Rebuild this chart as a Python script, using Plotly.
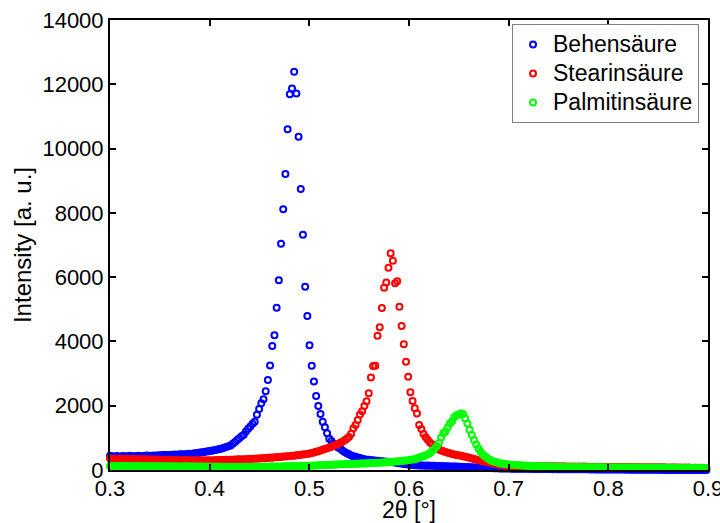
import plotly.graph_objects as go

# 2theta grid (degrees)
two_theta = [
    0.3000,0.3022,0.3044,0.3066,0.3088,0.3110,0.3132,0.3154,0.3176,0.3198,
    0.3220,0.3242,0.3264,0.3286,0.3308,0.3330,0.3352,0.3374,0.3396,0.3418,
    0.3440,0.3462,0.3484,0.3506,0.3528,0.3550,0.3572,0.3594,0.3616,0.3638,
    0.3660,0.3682,0.3704,0.3726,0.3748,0.3770,0.3792,0.3814,0.3836,0.3858,
    0.3880,0.3902,0.3924,0.3946,0.3968,0.3990,0.4012,0.4034,0.4056,0.4078,
    0.4100,0.4122,0.4144,0.4166,0.4188,0.4210,0.4232,0.4254,0.4276,0.4298,
    0.4320,0.4342,0.4364,0.4386,0.4408,0.4430,0.4452,0.4474,0.4496,0.4518,
    0.4540,0.4562,0.4584,0.4606,0.4628,0.4650,0.4672,0.4694,0.4716,0.4738,
    0.4760,0.4782,0.4804,0.4826,0.4848,0.4870,0.4892,0.4914,0.4936,0.4958,
    0.4980,0.5002,0.5024,0.5046,0.5068,0.5090,0.5112,0.5134,0.5156,0.5178,
    0.5200,0.5222,0.5244,0.5266,0.5288,0.5310,0.5332,0.5354,0.5376,0.5398,
    0.5420,0.5442,0.5464,0.5486,0.5508,0.5530,0.5552,0.5574,0.5596,0.5618,
    0.5640,0.5662,0.5684,0.5706,0.5728,0.5750,0.5772,0.5794,0.5816,0.5838,
    0.5860,0.5882,0.5904,0.5926,0.5948,0.5970,0.5992,0.6014,0.6036,0.6058,
    0.6080,0.6102,0.6124,0.6146,0.6168,0.6190,0.6212,0.6234,0.6256,0.6278,
    0.6300,0.6322,0.6344,0.6366,0.6388,0.6410,0.6432,0.6454,0.6476,0.6498,
    0.6520,0.6542,0.6564,0.6586,0.6608,0.6630,0.6652,0.6674,0.6696,0.6718,
    0.6740,0.6762,0.6784,0.6806,0.6828,0.6850,0.6872,0.6894,0.6916,0.6938,
    0.6960,0.6982,0.7004,0.7026,0.7048,0.7070,0.7092,0.7114,0.7136,0.7158,
    0.7180,0.7202,0.7224,0.7246,0.7268,0.7290,0.7312,0.7334,0.7356,0.7378,
    0.7400,0.7422,0.7444,0.7466,0.7488,0.7510,0.7532,0.7554,0.7576,0.7598,
    0.7620,0.7642,0.7664,0.7686,0.7708,0.7730,0.7752,0.7774,0.7796,0.7818,
    0.7840,0.7862,0.7884,0.7906,0.7928,0.7950,0.7972,0.7994,0.8016,0.8038,
    0.8060,0.8082,0.8104,0.8126,0.8148,0.8170,0.8192,0.8214,0.8236,0.8258,
    0.8280,0.8302,0.8324,0.8346,0.8368,0.8390,0.8412,0.8434,0.8456,0.8478,
    0.8500,0.8522,0.8544,0.8566,0.8588,0.8610,0.8632,0.8654,0.8676,0.8698,
    0.8720,0.8742,0.8764,0.8786,0.8808,0.8830,0.8852,0.8874,0.8896,0.8918,
    0.8940,0.8962,0.8984,
]

behensaeure = [
    440,425,415,432,418,422,436,420,428,441,
    430,421,433,446,429,424,441,449,437,444,
    452,446,458,450,463,470,461,468,477,472,
    480,476,488,492,485,498,505,500,512,520,
    530,545,552,560,575,583,596,610,622,640,
    655,672,690,712,735,760,820,870,930,990,
    1050,1100,1200,1280,1350,1440,1500,1720,1900,2080,
    2200,2450,2800,3250,3860,4190,5050,5900,7040,8110,
    9210,10600,11690,11870,12390,11710,10370,8740,7320,5700,
    4790,3880,3240,2750,2300,1990,1740,1500,1330,1140,
    970,900,820,760,700,670,610,560,520,490,
    450,430,410,385,370,350,335,320,315,305,
    300,290,285,275,270,268,260,255,250,240,
    230,220,210,200,190,180,170,165,155,150,
    145,140,142,138,135,140,136,132,130,128,
    125,122,120,118,116,112,110,108,105,100,
    98,95,92,90,86,84,80,78,75,72,
    70,68,65,62,60,58,55,52,50,48,
    46,44,45,42,40,41,38,39,36,37,
    35,36,33,34,32,33,30,31,29,30,
    28,29,27,28,26,27,25,26,24,25,
    24,23,25,22,23,21,22,20,21,19,
    20,18,19,17,18,16,17,15,16,14,
    15,13,14,12,13,11,12,10,11,9,
    10,8,9,7,8,6,7,5,6,4,
    5,3,4,2,3,1,2,0,1,0,
    1,0,2,0,1,0,1,0,2,0,
    1,0,1,
]

stearinsaeure = [
    360,345,352,338,347,355,340,333,348,342,
    336,344,330,338,329,335,326,332,321,328,
    318,325,316,322,312,319,310,317,308,314,
    306,312,303,309,300,306,298,304,296,302,
    295,301,294,300,296,303,298,305,300,308,
    305,312,308,316,312,320,318,326,323,332,
    330,338,336,345,342,352,350,360,358,368,
    366,376,375,385,384,395,395,405,406,417,
    418,430,432,444,447,458,462,474,480,492,
    500,515,530,548,565,585,605,628,650,675,
    700,725,752,780,810,845,880,925,975,1030,
    1130,1300,1400,1555,1730,1825,1990,2140,2390,2880,
    3236,3240,4180,4440,5040,5670,5830,6290,6740,6510,
    5810,5870,5080,4480,3910,3370,2900,2420,2150,1920,
    1760,1400,1275,1120,1020,930,850,790,740,680,
    640,610,580,560,540,520,500,485,470,455,
    440,425,410,395,380,360,345,325,305,290,
    275,260,245,230,215,200,185,170,160,150,
    140,135,130,128,125,122,120,118,116,115,
    118,112,120,110,116,108,122,111,117,106,
    114,104,119,108,113,102,117,106,111,100,
    112,101,108,98,110,97,106,99,104,95,
    103,94,100,92,99,90,101,93,96,88,
    97,89,94,86,95,84,92,87,90,82,
    91,83,88,80,89,78,86,81,84,76,
    85,77,83,74,81,72,80,75,78,70,
    79,71,76,68,75,66,73,69,72,64,
    70,62,66,
]

palmitinsaeure = [
    125,118,122,115,120,124,117,121,116,119,
    122,115,118,121,114,119,116,120,113,117,
    115,119,112,116,110,114,118,111,115,109,
    113,108,112,106,110,114,107,111,105,109,
    104,108,103,107,101,106,100,104,99,103,
    98,102,97,101,96,100,95,99,97,101,
    96,100,98,102,97,101,99,103,100,104,
    102,106,104,108,106,110,108,112,111,115,
    114,118,117,121,120,125,124,128,128,132,
    132,136,136,140,141,145,146,150,152,156,
    158,162,165,168,172,175,178,182,185,188,
    190,193,196,198,200,203,206,208,211,214,
    217,220,224,228,232,236,241,246,252,258,
    262,268,275,282,290,298,306,315,325,336,
    360,385,410,430,460,490,530,600,660,740,
    840,1010,1140,1200,1320,1450,1520,1640,1700,1720,
    1760,1740,1600,1450,1250,1090,930,790,680,570,
    480,420,370,330,290,265,245,225,210,198,
    185,178,172,166,160,155,150,146,142,138,
    135,131,128,125,122,120,117,115,112,110,
    108,106,105,103,102,100,99,98,97,95,
    94,93,92,91,90,89,88,88,87,86,
    85,85,84,83,83,82,81,81,80,80,
    79,79,78,78,77,77,76,76,75,75,
    74,74,73,73,72,72,71,71,70,70,
    70,69,69,68,68,67,67,66,66,65,
    65,64,64,63,63,62,62,61,61,60,
    60,59,59,
]

series_names = ["Behensäure", "Stearinsäure", "Palmitinsäure"]
series_values = [behensaeure, stearinsaeure, palmitinsaeure]
series_colors = ["#0000ff", "#ff0000", "#00ff00"]

x_ticks = [0.3, 0.4, 0.5, 0.6, 0.7, 0.8, 0.9]
y_ticks = [0, 2000, 4000, 6000, 8000, 10000, 12000, 14000]

for v in series_values:
    assert len(v) == len(two_theta), (len(v), len(two_theta))

fig = go.Figure()
for name, vals, col in zip(series_names, series_values, series_colors):
    fig.add_trace(go.Scatter(
        x=two_theta, y=vals, mode="markers",
        name=f"<span style='font-size:23px'>{name}</span>",
        marker=dict(symbol="circle-open", size=6, color=col,
                    line=dict(width=2, color=col)),
        cliponaxis=False,
    ))

axis_common = dict(
    showline=True, linewidth=2, linecolor="black", mirror="ticks",
    ticks="inside", ticklen=6, tickwidth=1.5, tickcolor="black",
    showgrid=False, zeroline=False, ticklabeloverflow="allow",
    automargin=False,
    tickfont=dict(size=22, color="black"),
)

fig.update_layout(
    width=720, height=523, autosize=False,
    margin=dict(l=110, r=12, t=20, b=53),
    paper_bgcolor="white", plot_bgcolor="white",
    font=dict(family="Liberation Sans, Arial, Helvetica, sans-serif", size=22, color="black"),
    xaxis=dict(range=[0.3, 0.9], tickvals=x_ticks, ticktext=[f"{t:.1f}" for t in x_ticks],
               ticklabelstandoff=-2,
               title=dict(text="2θ [°]", font=dict(size=23), standoff=4), **axis_common),
    yaxis=dict(range=[0, 14000], tickvals=y_ticks, ticktext=[str(t) for t in y_ticks],
               title=dict(text="Intensity [a. u.]", font=dict(size=24), standoff=4), **axis_common),
    legend=dict(x=0.985, y=0.991, xanchor="right", yanchor="top",
                bgcolor="white", bordercolor="#808080", borderwidth=1,
                font=dict(size=20, color="black"), itemwidth=30, tracegroupgap=0),
    showlegend=True,
)

fig.write_html("out.html")
